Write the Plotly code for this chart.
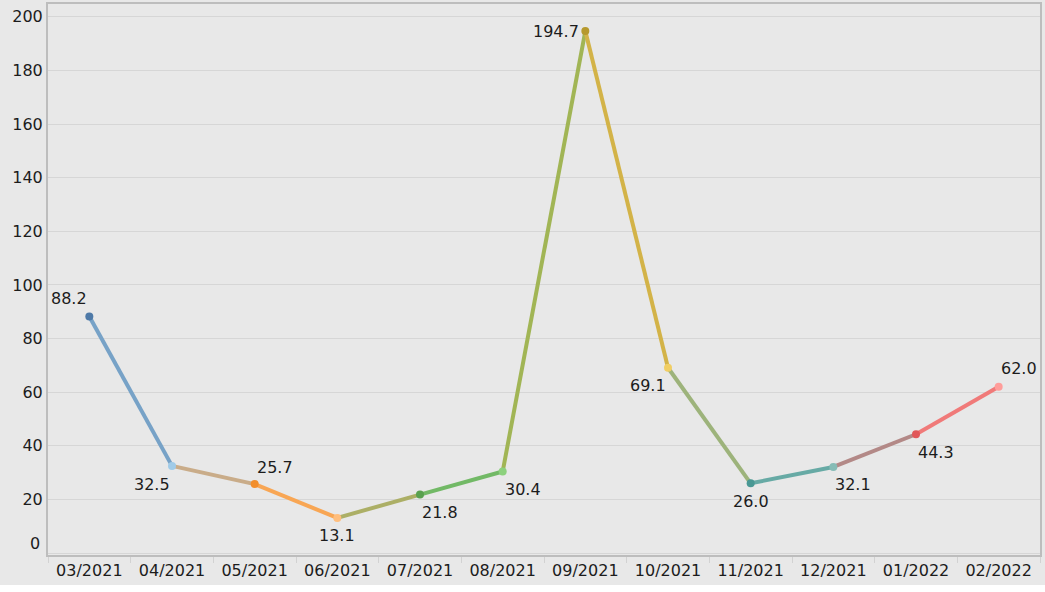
import plotly.graph_objects as go

months = ["03/2021", "04/2021", "05/2021", "06/2021", "07/2021", "08/2021",
          "09/2021", "10/2021", "11/2021", "12/2021", "01/2022", "02/2022"]
values = [88.2, 32.5, 25.7, 13.1, 21.8, 30.4, 194.7, 69.1, 26.0, 32.1, 44.3, 62.0]
point_colors = ["#4e79a7", "#a0cbe8", "#f28e2b", "#ffbe7d", "#59a14f", "#8cd17d",
                "#b6992d", "#f1ce63", "#499894", "#86bcb6", "#e15759", "#ff9d9a"]
y_ticks = [0, 20, 40, 60, 80, 100, 120, 140, 160, 180, 200]
y_tick_text = ["" if t == 0 else str(t) for t in y_ticks]

# label placement (style): xanchor, xshift, yshift
label_pos = [("right", 0, 18), ("right", 0, -19), ("left", 0, 17), ("center", 0, -18),
             ("left", 0, -18), ("left", 0, -18), ("right", -4, 0), ("right", 0, -18),
             ("center", 0, -18), ("left", 0, -18), ("left", 0, -18), ("left", 0, 18)]

TEXT = "#1c1c1c"


def hex2rgb(h):
    h = h.lstrip("#")
    return tuple(int(h[i:i + 2], 16) for i in (0, 2, 4))


def mix(a, b):
    ra, rb = hex2rgb(a), hex2rgb(b)
    return "rgb(%d,%d,%d)" % tuple((x + y) // 2 for x, y in zip(ra, rb))


fig = go.Figure()
for i in range(len(values) - 1):
    fig.add_trace(go.Scatter(
        x=months[i:i + 2], y=values[i:i + 2], mode="lines",
        line=dict(color=mix(point_colors[i], point_colors[i + 1]), width=4),
        hoverinfo="skip", showlegend=False))

fig.add_trace(go.Scatter(
    x=months, y=values, mode="markers",
    marker=dict(color=point_colors, size=8),
    showlegend=False))

for m, v, (xa, xs, ys) in zip(months, values, label_pos):
    fig.add_annotation(x=m, y=v, text="%.1f" % v, showarrow=False,
                       xanchor=xa, yanchor="middle", xshift=xs, yshift=ys,
                       font=dict(family="DejaVu Sans", size=16, color=TEXT))

# the "0" tick label sits slightly above its gridline in the reference
fig.add_annotation(xref="paper", x=0, yref="y", y=0, text="0", showarrow=False,
                   xanchor="right", yanchor="middle", xshift=-6, yshift=10,
                   font=dict(family="DejaVu Sans", size=16, color=TEXT))

fig.update_layout(
    width=1045, height=585,
    margin=dict(l=48, r=5, t=2, b=30),
    paper_bgcolor="#e8e8e8", plot_bgcolor="#e8e8e8",
    font=dict(family="DejaVu Sans", size=16, color=TEXT),
)
fig.update_xaxes(
    type="category", categoryorder="array", categoryarray=months,
    range=[-0.5, len(months) - 0.5],
    showgrid=False, showline=True, linecolor="#bdbdbd", linewidth=2, mirror=True,
    ticks="outside", tickson="boundaries", ticklen=6, tickcolor="#d2d2d2", tickwidth=1,
    tickfont=dict(size=16), zeroline=False,
)
fig.update_yaxes(
    range=[-0.74, 204.8], tickvals=y_ticks, ticktext=y_tick_text,
    showgrid=True, gridcolor="#d6d6d6", gridwidth=1,
    showline=True, linecolor="#bdbdbd", linewidth=2, mirror=True,
    ticks="", tickfont=dict(size=16), zeroline=False,
)

fig.write_html("out.html", config={"displayModeBar": False},
               post_script="document.body.style.margin='0';")
